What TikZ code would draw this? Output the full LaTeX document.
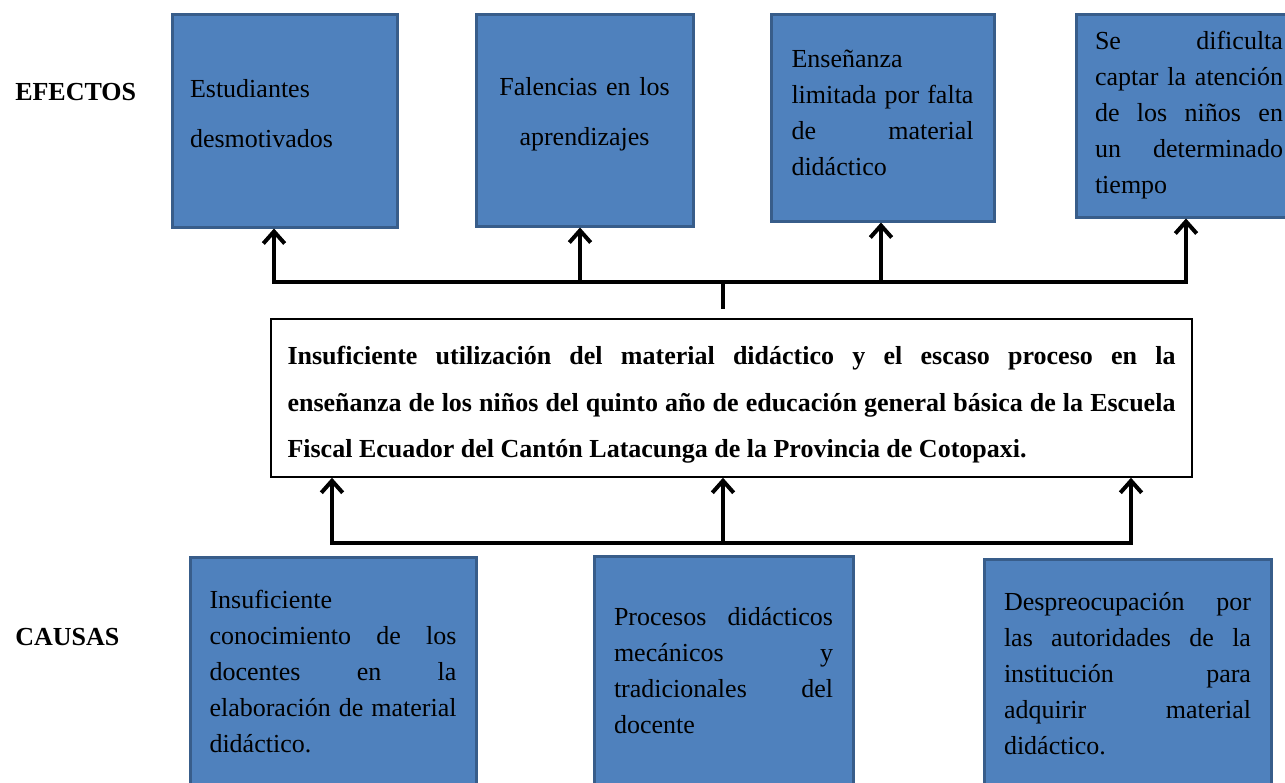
\documentclass[tikz,border=0pt]{standalone}
\usepackage{fontspec}
\setmainfont{Liberation Serif}
\usepackage{tikz}
\usetikzlibrary{arrows.meta}
\definecolor{cajaazul}{RGB}{79,129,189}
\definecolor{bordeazul}{RGB}{56,93,138}
\tikzset{
  caja/.style={draw=bordeazul, line width=2.25pt, fill=cajaazul, inner sep=0pt, align=justify, font=\fontsize{19.5}{27}\selectfont},
  rotulo/.style={anchor=base west, inner sep=0pt, font=\bfseries\fontsize{19.5}{27}\selectfont},
  linea/.style={line width=3pt, line cap=rect},
  flecha/.style={line width=3pt, -{Straight Barb[length=9pt,width=16pt]}},
}

\begin{document}
\begin{tikzpicture}[x=0.75pt,y=0.75pt,yscale=-1,xscale=1]
\useasboundingbox (0,0) rectangle (1285,782);

\draw (15,100) node [rotulo] (efectos) {EFECTOS};
\draw (15,645) node [rotulo] (causas) {CAUSAS};

\draw (284.5,120.5) node [caja, minimum width=168.75pt, minimum height=159.75pt, text width=141.75pt, text depth=48pt, align=left, font=\fontsize{19.5}{37.5}\selectfont] (e1) {Estudiantes\\desmotivados};
\draw (584.5,120) node [caja, minimum width=162.75pt, minimum height=159pt, text width=135pt, text depth=50.5pt, align=center, font=\fontsize{19.5}{37.5}\selectfont] (e2) {Falencias en los\\aprendizajes};
\draw (882.5,117.5) node [caja, minimum width=167.25pt, minimum height=155.25pt, text width=136.5pt, text depth=88.5pt] (e3) {Enseñanza\newline limitada por falta\linebreak de material\linebreak didáctico};
\draw (1189,115.5) node [caja, minimum width=169.5pt, minimum height=152.25pt, text width=141pt] (e4) {Se dificulta\linebreak captar la atención\linebreak de los niños en\linebreak un determinado\linebreak tiempo};

\draw (731.5,398) node [draw, line width=1.1pt, fill=white, inner sep=0pt, minimum width=690.75pt, minimum height=118.5pt, text width=666pt, text height=24pt, align=justify, font=\bfseries\fontsize{19.5}{35}\selectfont] (centro) {Insuficiente utilización del material didáctico y el escaso proceso en la\linebreak enseñanza de los niños del quinto año de educación general básica de la Escuela\linebreak Fiscal Ecuador del Cantón Latacunga de la Provincia de Cotopaxi.};

\draw (333,672) node [caja, minimum width=214.5pt, minimum height=172.5pt, text width=185.25pt] (c1) {Insuficiente\newline conocimiento de los\linebreak docentes en la\linebreak elaboración de material\linebreak didáctico.};
\draw (723.5,670.5) node [caja, minimum width=194.25pt, minimum height=171.75pt, text width=164.25pt] (c2) {Procesos didácticos\linebreak mecánicos y\linebreak tradicionales del\linebreak docente};
\draw (1127.5,674) node [caja, minimum width=215.25pt, minimum height=172.5pt, text width=185.25pt] (c3) {Despreocupación por\linebreak las autoridades de la\linebreak institución para\linebreak adquirir material\linebreak didáctico.};

\coordinate (t1) at (274,282);
\coordinate (t2) at (580,282);
\coordinate (t3) at (881,282);
\coordinate (t4) at (1186,282);
\coordinate (s1) at (723,282);
\coordinate (s2) at (723,307);
\draw [linea] (t1) -- (t4);
\draw [linea] (s1) -- (s2);
\draw [flecha] (t1) -- (t1 |- e1.south);
\draw [flecha] (t2) -- (t2 |- e2.south);
\draw [flecha] (t3) -- (t3 |- e3.south);
\draw [flecha] (t4) -- (t4 |- e4.south);

\coordinate (b1) at (332,543);
\coordinate (b2) at (723,543);
\coordinate (b3) at (1131,543);
\draw [linea] (b1) -- (b3);
\draw [flecha] (b1) -- (b1 |- centro.south);
\draw [flecha] (b2) -- (b2 |- centro.south);
\draw [flecha] (b3) -- (b3 |- centro.south);
\end{tikzpicture}
\end{document}
